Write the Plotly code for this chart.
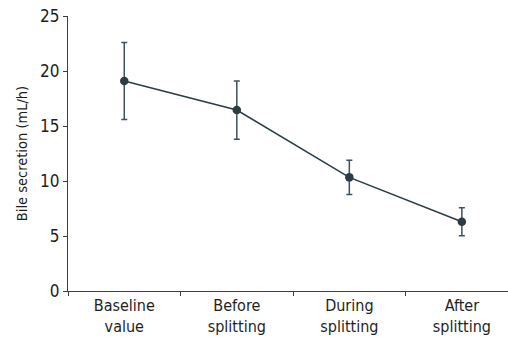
import plotly.graph_objects as go

categories = ["Baseline<br>value", "Before<br>splitting", "During<br>splitting", "After<br>splitting"]
means = [19.1, 16.45, 10.33, 6.3]
errors = [3.5, 2.65, 1.55, 1.27]
y_ticks = [0, 5, 10, 15, 20, 25]

FONT = "Liberation Sans Narrow, DejaVu Sans Condensed, Arial Narrow, sans-serif"
DARK = "#2a3d45"
AXIS = "#3f3f3f"

fig = go.Figure()
fig.add_trace(go.Scatter(
    x=categories, y=means,
    mode="lines+markers",
    line=dict(color=DARK, width=1.5),
    marker=dict(color=DARK, size=8.5),
    error_y=dict(type="data", array=errors, visible=True, color="#3d535c",
                 thickness=1.5, width=3),
    showlegend=False,
))

# slight axis overhangs like the original
fig.add_shape(type="line", xref="x", yref="y", x0=-0.545, x1=-0.5, y0=0, y1=0,
              line=dict(color=AXIS, width=1.3))
fig.add_shape(type="line", xref="x", yref="y", x0=-0.5, x1=-0.5, y0=0, y1=-0.5,
              line=dict(color=AXIS, width=1.3))

fig.update_layout(
    width=508, height=342,
    margin=dict(l=68, r=0, t=16, b=51),
    paper_bgcolor="white", plot_bgcolor="white",
    font=dict(family=FONT, size=15, color="#1e1e1e"),
    xaxis=dict(
        type="category", range=[-0.5, 3.41],
        showline=True, linecolor=AXIS, linewidth=1.3,
        ticks="outside", tickson="boundaries", ticklen=4, tickcolor=AXIS, tickwidth=1.3,
        showgrid=False, zeroline=False,
        tickfont=dict(family=FONT, size=16, color="#1e1e1e"),
    ),
    yaxis=dict(
        range=[0, 25], tickvals=y_ticks,
        showline=True, linecolor=AXIS, linewidth=1.3,
        ticks="outside", ticklen=4, tickcolor=AXIS, tickwidth=1.3,
        showgrid=False, zeroline=False,
        tickfont=dict(family=FONT, size=17, color="#1e1e1e"),
        title=dict(text="Bile secretion (mL/h)", font=dict(family=FONT, size=14.5, color="#1e1e1e"),
                   standoff=8),
    ),
)

fig.write_html("out.html")
